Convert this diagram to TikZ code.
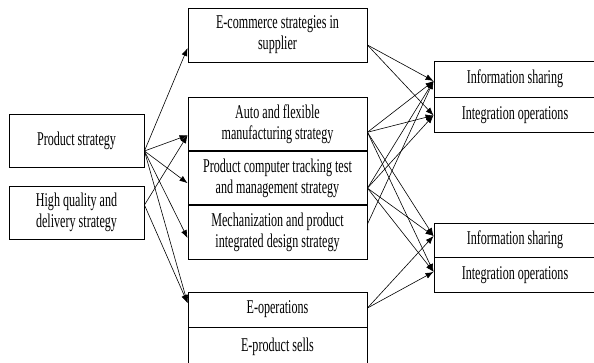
\documentclass[tikz,border=0pt]{standalone}
\usepackage{fontspec}
\setmainfont{Liberation Serif}[FakeStretch=0.62]
\usetikzlibrary{positioning,arrows.meta}
\begin{document}
\begin{tikzpicture}[
			x=1pt, y=-1pt,
			box/.style = {draw, line width=0.9pt, inner sep=0pt, align=center,
				font=\fontsize{19.5}{21}\selectfont},
			leftbox/.style = {box, minimum width=135pt, minimum height=53pt},
			midbox/.style = {box, minimum width=179pt, minimum height=53.5pt},
			ebox/.style = {box, minimum width=179pt, minimum height=35pt},
			rightbox/.style = {box, minimum width=162pt, minimum height=35pt},
			link/.style = {line width=0.6pt, -{Latex[length=8pt,width=6pt]}},
			]
			\useasboundingbox (0,0) rectangle (594,362);
			% left column
			\node[leftbox] (prod) at (76.5,140.5) {Product strategy};
			\node[leftbox] (quality) at (76.5,212.5) {High quality and\\delivery strategy};
			% middle column
			\node[midbox, minimum height=54pt] (ecom) at (277.5,35) {E-commerce strategies in\\supplier};
			\node[midbox] (auto) at (277.5,123.75) {Auto and flexible\\manufacturing strategy};
			\node[midbox, below=0pt of auto] (track) {Product computer tracking test\\and management strategy};
			\node[midbox, below=0pt of track] (mech) {Mechanization and product\\integrated design strategy};
			\node[ebox] (eop) at (277.5,309.5) {E-operations};
			\node[ebox, below=0pt of eop, minimum height=38pt, text depth=4pt] (esell) {E-product sells};
			% right column
			\node[rightbox, minimum height=36pt] (share1) at (515,79) {Information sharing};
			\node[rightbox, below=0pt of share1] (integ1) {Integration operations};
			\node[rightbox, minimum height=34pt] (share2) at (515,240) {Information sharing};
			\node[rightbox, below=0pt of share2] (integ2) {Integration operations};
			% left to middle
			\foreach \dst/\dy in {ecom/-13, auto/-11.5, track/-5, mech/-5.5, eop/6.5}
				\draw[link] ([yshift=-10.5pt]prod.east) -- ([yshift=\dy pt]\dst.west);
			\foreach \dst/\dy in {auto/-11.5, eop/6.5}
				\draw[link] ([yshift=7.5pt]quality.east) -- ([yshift=\dy pt]\dst.west);
			% middle to right
			\foreach \src/\sy/\dst/\dy in {ecom/-10/share1/-2, ecom/-10/integ1/0,
				auto/-8.5/share1/-2, auto/-8.5/integ1/0, auto/-8.5/share2/4, auto/-8.5/integ2/3.5,
				track/-10/share1/-2, track/-10/integ1/0, track/-10/share2/4, track/-10/integ2/3.5,
				mech/8.5/share1/-2, eop/1.5/share2/4, eop/1.5/integ2/3.5}
				\draw[link] ([yshift=\sy pt]\src.east) -- ([yshift=\dy pt]\dst.west);
		\end{tikzpicture}
\end{document}
